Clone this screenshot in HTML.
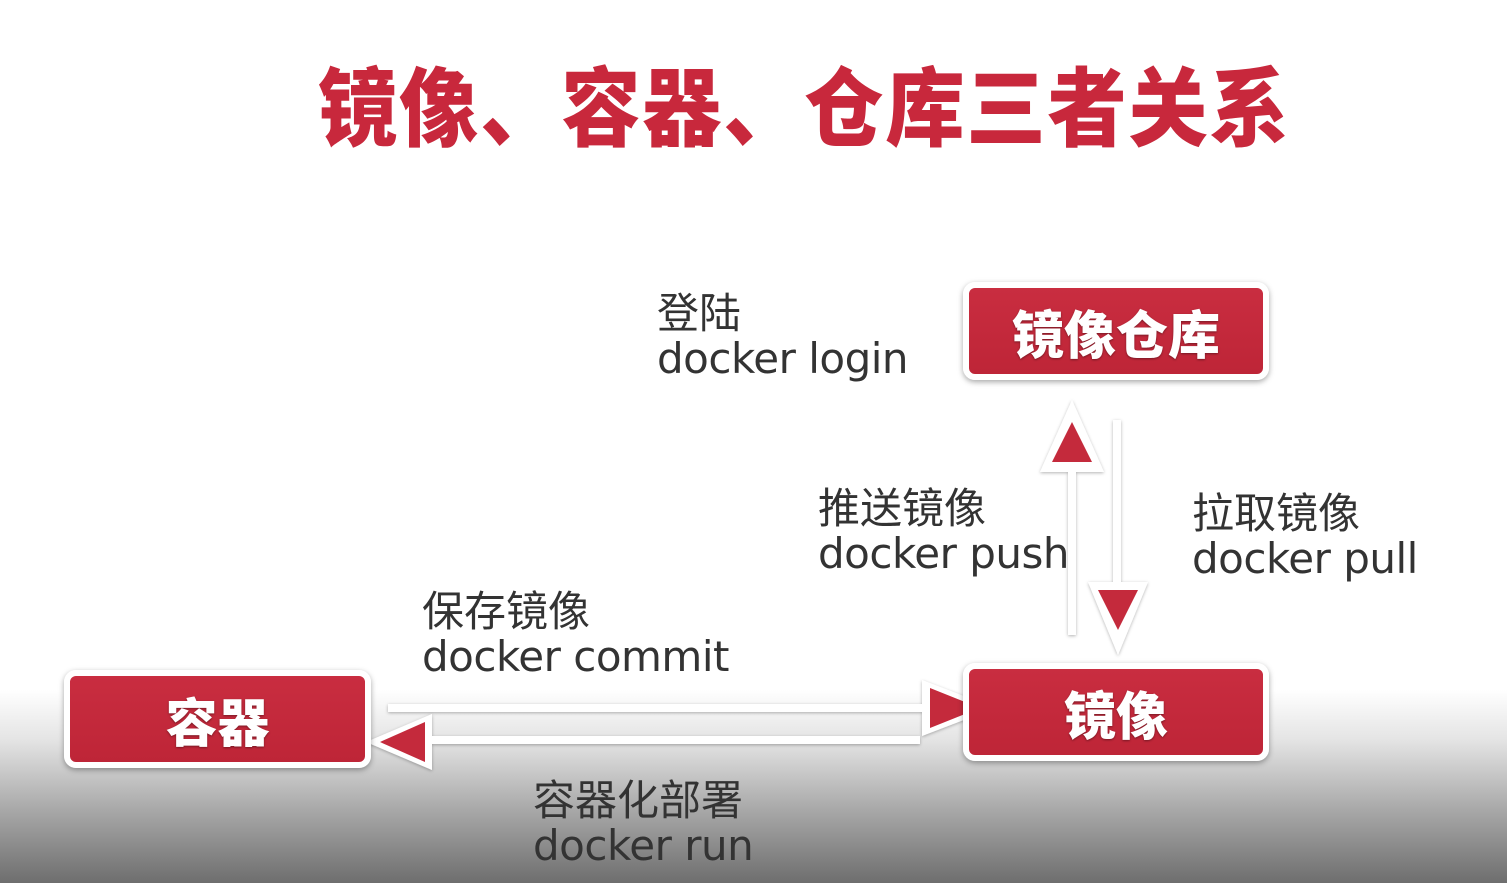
<!DOCTYPE html>
<html><head><meta charset="utf-8"><style>
html,body{margin:0;padding:0}
body{width:1507px;height:883px;position:relative;overflow:hidden;
background:linear-gradient(to bottom,#fff 0px,#fff 690px,#e4e4e4 740px,#a8a8a8 810px,#6e6e6e 883px);
font-family:"Liberation Sans","Noto Sans CJK SC",sans-serif}
.t{position:absolute;left:318px;top:52px;font-size:86px;font-weight:900;color:#c8283c;white-space:nowrap;line-height:100px;letter-spacing:1.8px;font-family:"Noto Sans CJK SC",sans-serif;transform:scaleX(0.923);transform-origin:0 0}
.box{position:absolute;box-sizing:border-box;background:linear-gradient(#c92d40,#be2537);border:6px solid #fff;border-radius:12px;box-shadow:0 2px 6px rgba(0,0,0,.35);color:#fff;font-weight:900;display:flex;align-items:center;justify-content:center;font-family:"Noto Sans CJK SC",sans-serif;text-shadow:0 1px 2px rgba(0,0,0,.4)}
.l{position:absolute;color:#333;white-space:nowrap;line-height:48px}
.l .c{font-size:42px;font-family:"Noto Sans CJK SC",sans-serif}
.l .e{font-size:42px;font-family:"DejaVu Sans","Liberation Sans",sans-serif;letter-spacing:-0.5px}
</style></head><body>
<div class="t">镜像、容器、仓库三者关系</div>

<svg width="1507" height="883" style="position:absolute;left:0;top:0">
<defs><filter id="s"><feDropShadow dx="0" dy="1" stdDeviation="1.5" flood-color="#000" flood-opacity=".3"/></filter></defs>
<g filter="url(#s)">
<rect x="388" y="704" width="540" height="8" fill="#fff"/>
<rect x="425" y="736" width="495" height="8" fill="#fff"/>
<rect x="1068" y="455" width="8" height="180" fill="#fff"/>
<rect x="1113" y="420" width="8" height="170" fill="#fff"/>
<polygon points="922,680 995,708 922,736" fill="#fff"/>
<polygon points="366,742 432,714 432,770" fill="#fff"/>
<polygon points="1072,400 1104,472 1040,472" fill="#fff"/>
<polygon points="1088,582 1148,582 1118,655" fill="#fff"/>
</g>
<polygon points="930,688 980,708 930,728" fill="#c42a3c"/>
<polygon points="380,742 425,722 425,762" fill="#c42a3c"/>
<polygon points="1072,422 1092,462 1052,462" fill="#c42a3c"/>
<polygon points="1098,590 1138,590 1118,630" fill="#c42a3c"/>
</svg>

<div class="box" style="left:963px;top:282px;width:306px;height:98px;font-size:52px">镜像仓库</div>
<div class="box" style="left:64px;top:670px;width:307px;height:98px;font-size:52px">容器</div>
<div class="box" style="left:963px;top:663px;width:306px;height:98px;font-size:52px">镜像</div>

<div class="l" style="left:657px;top:287px"><div class="c">登陆</div><div class="e">docker login</div></div>
<div class="l" style="left:818px;top:482px"><div class="c">推送镜像</div><div class="e">docker push</div></div>
<div class="l" style="left:1192px;top:487px"><div class="c">拉取镜像</div><div class="e">docker pull</div></div>
<div class="l" style="left:422px;top:585px"><div class="c">保存镜像</div><div class="e">docker commit</div></div>
<div class="l" style="left:533px;top:774px"><div class="c">容器化部署</div><div class="e">docker run</div></div>
</body></html>
